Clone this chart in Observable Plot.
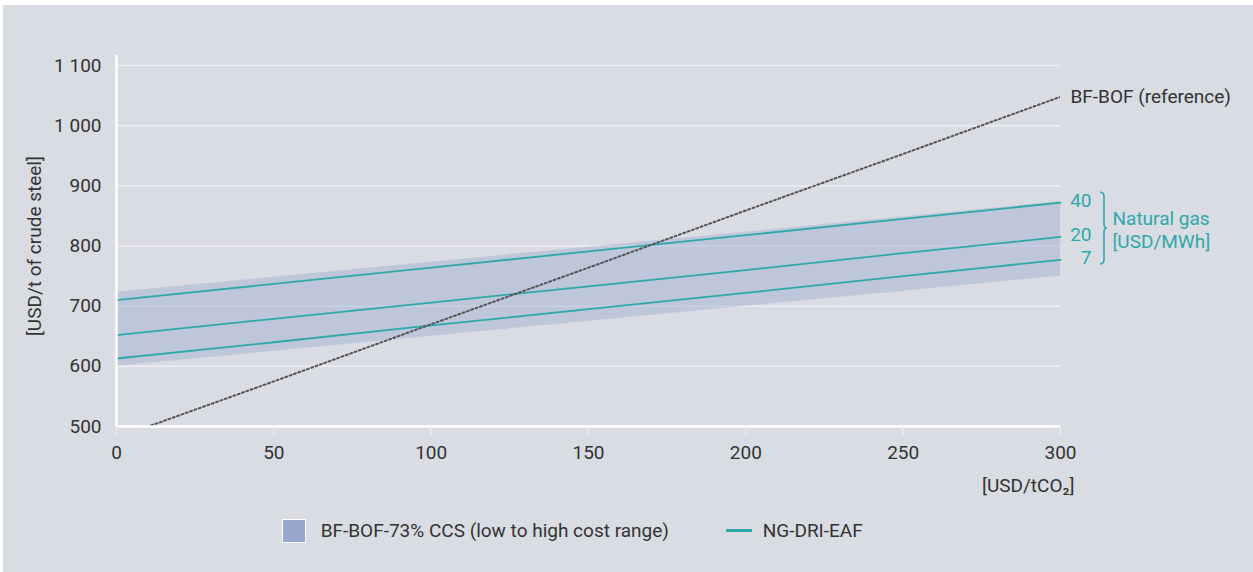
<!DOCTYPE html>
<html>
<head>
<meta charset="utf-8">
<script src="https://cdn.jsdelivr.net/npm/d3@7"></script>
<script src="https://cdn.jsdelivr.net/npm/@observablehq/plot@0.6"></script>
<style>
  html, body { margin: 0; padding: 0; background: #ffffff; }
  #frame { position: absolute; left: 3px; top: 5px; width: 1250px; height: 567px; background: #d9dce3; font-family: Roboto, sans-serif; color: #333; }
  #chart { position: absolute; left: 0; top: 0; }
  #legend { position: absolute; top: 513.5px; left: 0; width: 1250px; height: 24px; font-size: 19px; }
  .sw { position: absolute; }
  .lt { position: absolute; line-height: 24px; top: 0; white-space: nowrap; }
</style>
</head>
<body>
<div id="frame">
  <div id="chart"></div>
  <div id="legend"></div>
</div>
<script>
// ---- data ----
const co2Price = [0, 50, 100, 150, 200, 250, 300];          // USD/tCO2
const bfBofRef = [481, 575, 670, 764, 859, 953, 1048];      // BF-BOF (reference)
const ccsLow   = [600, 625, 650, 675, 700, 725, 750];       // BF-BOF-73% CCS low
const ccsHigh  = [723, 748, 773, 798, 823, 848, 874];       // BF-BOF-73% CCS high
const ng40     = [710, 737, 764, 791, 818, 845, 872];       // NG-DRI-EAF, gas 40 USD/MWh
const ng20     = [652, 679, 706, 733, 760, 788, 815];       // gas 20 USD/MWh
const ng7      = [613, 640, 668, 695, 722, 750, 777];       // gas 7 USD/MWh
const gasPrices = ["40", "20", "7"];
const xTicks = [0, 50, 100, 150, 200, 250, 300];
const yTicks = [500, 600, 700, 800, 900, 1000, 1100];
const legendItems = ["BF-BOF-73% CCS (low to high cost range)", "NG-DRI-EAF"];

const teal = "#2ea9aa";
const bandColor = "#96a6cc";

const refRows = co2Price.map((x, i) => ({x, y: bfBofRef[i]}));
const bandRows = co2Price.map((x, i) => ({x, lo: ccsLow[i], hi: ccsHigh[i]}));
const ngSeries = [ng40, ng20, ng7];
const ngRows = ngSeries.flatMap((s, k) => co2Price.map((x, i) => ({x, y: s[i], gas: gasPrices[k]})));
const endLabels = ngSeries.map((s, k) => ({x: 300, y: s[s.length - 1], t: gasPrices[k]}));

const fmt = d => d >= 1000 ? String(Math.floor(d / 1000)) + " " + String(d % 1000).padStart(3, "0") : String(d);

const plot = Plot.plot({
  width: 1250,
  height: 500,
  marginLeft: 113,
  marginRight: 193,
  marginTop: 60,
  marginBottom: 79,
  x: {domain: [0, 300]},
  y: {domain: [500, 1100]},
  style: {background: "transparent", fontFamily: "Roboto, sans-serif", fontSize: "19px", color: "#333", overflow: "visible"},
  marks: [
    Plot.gridY(yTicks, {stroke: "#eceef2", strokeOpacity: 1, strokeWidth: 1.5}),
    Plot.areaY(bandRows, {x: "x", y1: "lo", y2: "hi", fill: bandColor, fillOpacity: 0.4}),
    Plot.line(ngRows, {x: "x", y: "y", z: "gas", stroke: teal, strokeWidth: 1.8}),
    Plot.line(refRows, {x: "x", y: "y", stroke: "#555", strokeWidth: 2, strokeDasharray: "2,2.6", clip: true}),
    Plot.ruleX([0], {y1: 500, y2: 1117, stroke: "white", strokeWidth: 2.5}),
    Plot.ruleY([500], {x1: 0, x2: 300, stroke: "white", strokeWidth: 2.5}),
    Plot.axisY(yTicks, {tickSize: 0, tickPadding: 15, tickFormat: fmt, label: "[USD/t of crude steel]", labelAnchor: "center", labelArrow: "none", labelOffset: 89, fill: "#333"}),
    Plot.axisX(xTicks, {tickSize: 10, tickPadding: 9, stroke: "#eceef3", fill: "#333", label: null}),
    Plot.text(endLabels, {x: "x", y: "y", text: "t", dx: 31, dy: -2, textAnchor: "end", fill: teal}),
    Plot.text(["Natural gas\n[USD/MWh]"], {x: 300, y: 815, dx: 52, dy: -8, textAnchor: "start", lineHeight: 1.21, fill: teal}),
    Plot.text(["BF-BOF (reference)"], {x: 300, y: 1048, dx: 10, textAnchor: "start", fill: "#333"}),
    Plot.text(["[USD/tCO₂]"], {x: 300, y: 500, dx: 14, dy: 59, textAnchor: "end", fill: "#333"})
  ]
});

// curly brace grouping the gas-price labels
{
  const sy = plot.scale("y"), sx = plot.scale("x");
  const bx = sx.apply(300) + 44;
  const yt = sy.apply(ng40[ng40.length - 1]) - 10;
  const yb = sy.apply(ng7[ng7.length - 1]) + 4.5;
  const ym = (yt + yb) / 2;
  const p = `M${bx - 4},${yt} Q${bx},${yt} ${bx},${yt + 4} L${bx},${ym - 4} Q${bx},${ym} ${bx + 3},${ym} Q${bx},${ym} ${bx},${ym + 4} L${bx},${yb - 4} Q${bx},${yb} ${bx - 4},${yb}`;
  d3.select(plot).append("path").attr("d", p).attr("fill", "none").attr("stroke", teal).attr("stroke-width", 1.6);
}

document.getElementById("chart").appendChild(plot);

// legend
const lg = document.getElementById("legend");
lg.innerHTML = `
  <div class="sw" style="left:279.3px; top:0px; width:21.4px; height:22px; background:${bandColor}; border:1px solid #fff;"></div>
  <div class="lt" style="left:317.7px;">${legendItems[0]}</div>
  <div class="sw" style="left:723px; top:10.5px; width:26px; height:2.7px; background:${teal};"></div>
  <div class="lt" style="left:759.7px;">${legendItems[1]}</div>`;
</script>
</body>
</html>
